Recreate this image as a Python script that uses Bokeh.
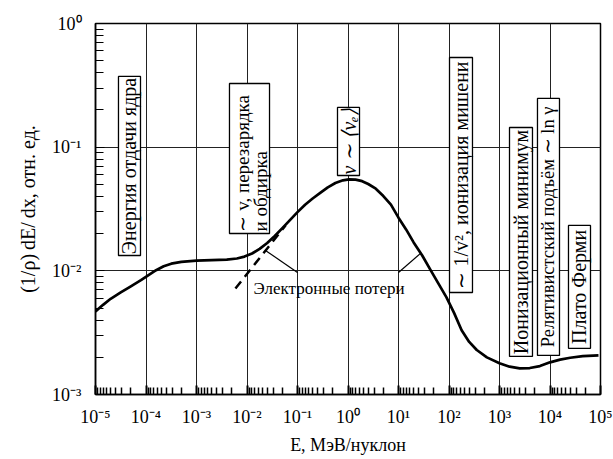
import numpy as np
from bokeh.plotting import figure
from bokeh.models import FixedTicker, Title
from bokeh.core.properties import value
from bokeh.embed import file_html
from bokeh.resources import INLINE

# Specific energy loss versus energy per nucleon, stored as decimal exponents
log_energy = [-5.00, -4.85, -4.70, -4.50, -4.30, -4.10, -3.95, -3.80, -3.65,
              -3.50, -3.30, -3.00, -2.70, -2.40, -2.20, -2.05, -1.90, -1.75,
              -1.60, -1.45, -1.30, -1.15, -1.00, -0.85, -0.70, -0.55, -0.40,
              -0.25, -0.10, 0.02, 0.15, 0.28, 0.40, 0.55, 0.70, 0.85, 1.00,
              1.15, 1.30, 1.47, 1.63, 1.80, 1.95, 2.10, 2.25, 2.40, 2.55, 2.75,
              3.00, 3.20, 3.40, 3.60, 3.80, 4.00, 4.20, 4.40, 4.65, 4.96]
log_dedx = [-2.328, -2.275, -2.226, -2.175, -2.125, -2.075, -2.035, -1.995,
            -1.963, -1.942, -1.928, -1.918, -1.914, -1.910, -1.900, -1.885,
            -1.860, -1.822, -1.775, -1.718, -1.655, -1.590, -1.525, -1.465,
            -1.415, -1.370, -1.325, -1.290, -1.268, -1.261, -1.263, -1.275,
            -1.298, -1.336, -1.395, -1.465, -1.570, -1.665, -1.770, -1.876,
            -1.990, -2.110, -2.215, -2.340, -2.480, -2.575, -2.640, -2.700,
            -2.748, -2.775, -2.789, -2.786, -2.770, -2.740, -2.718, -2.703,
            -2.690, -2.684]

# Electronic-loss asymptote (dashed)
el_energy = [5.9e-3, 5.8e-2]
el_dedx = [0.0072, 0.0233]

x_decades = [-5, -4, -3, -2, -1, 0, 1, 2, 3, 4, 5]
y_decades = [-3, -2, -1, 0]

# Region captions (vertical, boxed)
captions = ["Энергия отдачи ядра", "v \u223c \u27e8v\u2091\u27e9",
            "\u223c 1/v\u00b2, ионизация мишени", "Ионизационный минимум",
            "Релятивистский подъём \u223c ln \u03b3", "Плато Ферми"]
charge_lines = ["\u223c v, перезарядка", "и обдирка"]

FONT = "Liberation Serif"
SUP = str.maketrans("0123456789-", "\u2070\u00b9\u00b2\u00b3\u2074\u2075\u2076\u2077\u2078\u2079\u207b")

def decade_label(k):
    return "10" + str(k).translate(SUP)

energy = 10.0 ** np.array(log_energy)
dedx = 10.0 ** np.array(log_dedx)

p = figure(width=613, height=459, x_axis_type="log", y_axis_type="log",
           x_range=(1e-5, 1e5), y_range=(1e-3, 1.0),
           min_border_left=95, min_border_right=13, min_border_top=23,
           min_border_bottom=65, output_backend="svg", toolbar_location=None)
p.background_fill_color = "white"
p.border_fill_color = "white"
p.outline_line_color = "black"
p.outline_line_width = 1.5

x_major = [10.0 ** k for k in x_decades]
x_minor = [10.0 ** k * 10.0 / j for k in x_decades[:-1] for j in range(2, 10)]
y_major = [10.0 ** k for k in y_decades]
y_minor = [10.0 ** k * j for k in y_decades[:-1] for j in range(2, 10)]

p.xaxis.ticker = FixedTicker(ticks=x_major, minor_ticks=x_minor)
p.yaxis.ticker = FixedTicker(ticks=y_major, minor_ticks=y_minor)
p.xaxis.major_label_overrides = {10.0 ** k: decade_label(k) for k in x_decades}
p.yaxis.major_label_overrides = {10.0 ** k: decade_label(k) for k in y_decades}
for ax in (p.xaxis, p.yaxis):
    ax.major_label_text_font = FONT
    ax.major_label_text_font_size = "18px"
    ax.major_label_text_color = "black"
    ax.major_tick_out = 0
    ax.minor_tick_out = 0
    ax.axis_line_color = "black"
    ax.major_tick_line_color = "black"
    ax.minor_tick_line_color = "black"
    ax.axis_label_text_font = FONT
    ax.axis_label_text_font_size = "18px"
    ax.axis_label_text_font_style = "normal"
    ax.axis_label_text_color = "black"
p.xaxis.major_label_standoff = 12
p.yaxis.major_label_standoff = 14
p.xaxis.major_tick_in = 9
p.xaxis.minor_tick_in = 7
p.xaxis.major_tick_line_width = 2
p.xaxis.minor_tick_line_width = 1.5
p.xaxis.axis_line_width = 1.5
p.yaxis.major_tick_in = 9
p.yaxis.minor_tick_in = 8
p.yaxis.minor_tick_line_width = 1.2
p.yaxis.axis_line_width = 1.5

p.xaxis.axis_label = "E, МэВ/нуклон"
p.xaxis.axis_label_standoff = 5

p.add_layout(Title(text="(1/\u03c1)\u2009dE/\u2009dx, отн. ед.", align="center",
                   offset=-31, standoff=22, text_font=FONT, text_font_size="20px",
                   text_font_style="normal", text_color="black"), "left")

for g in (p.xgrid, p.ygrid):
    g.grid_line_color = "#222222"
    g.grid_line_width = 1
    g.grid_line_alpha = 1

# curves
p.line(energy, dedx, line_color="black", line_width=2.7, line_join="round")
p.line(el_energy, el_dedx, line_color="black", line_width=2.5, line_dash="9 6")

# caption boxes: extents in decimal exponents (left, right, bottom, top)
box_l = [-4.545, -2.347, -0.208, 2.010, 3.198, 3.752, 4.366]
box_r = [-4.109, -1.554, 0.228, 2.465, 3.653, 4.188, 4.802]
box_b = [-1.876, -1.698, -1.229, -2.175, -2.692, -2.684, -2.627]
box_t = [-0.428, -0.485, -0.679, -0.275, -0.841, -0.606, -1.633]
p.quad(left=10.0 ** np.array(box_l), right=10.0 ** np.array(box_r),
       bottom=10.0 ** np.array(box_b), top=10.0 ** np.array(box_t),
       fill_color="white", line_color="black", line_width=1.3)

single = [0, 2, 3, 4, 5, 6]
cx = [10.0 ** ((box_l[i] + box_r[i]) / 2) for i in single]
cy = [10.0 ** ((box_b[i] + box_t[i]) / 2) for i in single]
styles = ["normal", "italic", "normal", "normal", "normal", "normal"]
sizes = ["20px", "20px", "20px", "20px", "18.5px", "20px"]
for x, y, t, s, fs in zip(cx, cy, captions, styles, sizes):
    p.text(x=[x], y=[y], text=[t], angle=np.pi / 2, text_align="center",
           text_baseline="middle", text_font=value(FONT), text_font_size=fs,
           text_font_style=s, text_color="black")

# two-line caption, both lines starting at the box bottom
p.text(x=[10 ** -2.090, 10 ** -1.733], y=[10 ** -1.682, 10 ** -1.682],
       text=charge_lines, angle=np.pi / 2, text_align="left",
       text_baseline="middle", text_font=value(FONT), text_font_size="19px",
       text_color="black")

# electronic losses caption with leader lines
p.text(x=[10 ** -1.871], y=[10 ** -2.142], text=["Электронные потери"],
       text_align="left", text_baseline="alphabetic", text_font=value(FONT),
       text_font_size="17px", text_color="black")
p.segment(x0=[10 ** -1.634, 10 ** 1.0], y0=[10 ** -1.835, 10 ** -2.013],
          x1=[10 ** -1.0, 10 ** 1.436], y1=[10 ** -2.013, 10 ** -1.859],
          line_color="black", line_width=1.2)

open("out.html", "w").write(file_html(p, INLINE))
